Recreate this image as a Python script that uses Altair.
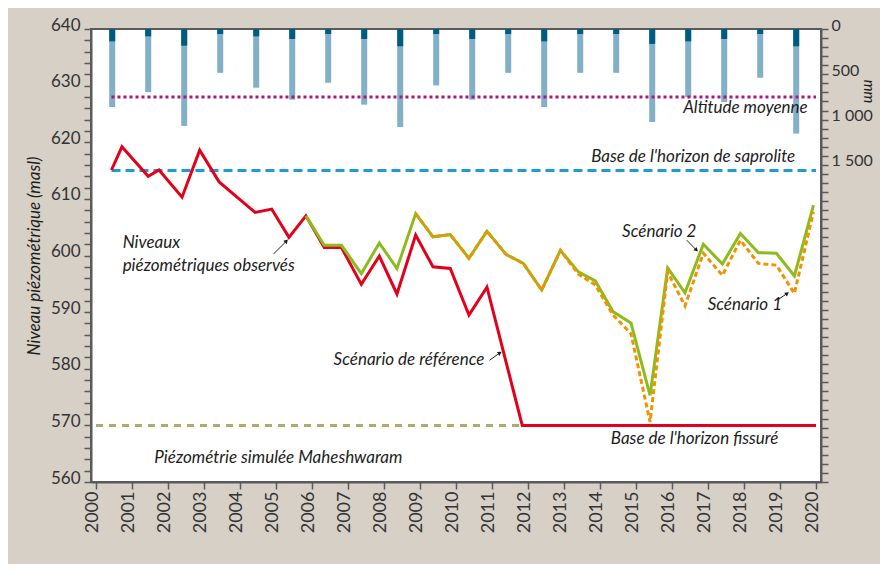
import altair as alt
import pandas as pd

# ---------------- data ----------------
# rainfall (mm), one bar per year
pluie_t = [2000.45, 2001.45, 2002.45, 2003.45, 2004.45, 2005.45, 2006.45, 2007.45, 2008.45, 2009.45,
           2010.45, 2011.45, 2012.45, 2013.45, 2014.45, 2015.45, 2016.45, 2017.45, 2018.45, 2019.45]
pluie_totale = [862, 697, 1070, 484, 648, 780, 593, 835, 1081, 623,
                780, 484, 862, 484, 484, 1026, 752, 807, 538, 1154]
pluie_sombre = [136, 81, 184, 55, 81, 110, 55, 110, 191, 55,
                110, 55, 136, 55, 55, 165, 136, 110, 55, 191]

# observed levels + reference scenario (red)
ref_t = [2000.43, 2000.72, 2001.45, 2001.75, 2002.39, 2002.88, 2003.42, 2003.90, 2004.42, 2004.88,
         2005.36, 2005.83, 2006.34, 2006.82, 2007.37, 2007.87, 2008.36, 2008.88, 2009.36, 2009.84,
         2010.36, 2010.86, 2011.84, 2020.0]
ref_v = [615.1, 619.2, 614.0, 615.1, 610.3, 618.6, 613.0, 610.4, 607.6, 608.2,
         603.2, 607.0, 601.4, 601.4, 594.9, 599.9, 593.2, 603.6, 598.0, 597.7,
         589.5, 594.4, 570.0, 570.0]

# scenario 2 (green)
s2_t = [2005.83, 2006.34, 2006.82, 2007.37, 2007.87, 2008.36, 2008.88, 2009.36, 2009.84, 2010.36,
        2010.86, 2011.39, 2011.87, 2012.38, 2012.90, 2013.40, 2013.87, 2014.36, 2014.86, 2015.39,
        2015.88, 2016.36, 2016.87, 2017.40, 2017.90, 2018.40, 2018.90, 2019.40, 2019.93]
s2_v = [607.0, 601.8, 601.8, 596.8, 602.2, 597.7, 607.4, 603.3, 603.7, 599.5,
        604.3, 600.2, 598.6, 593.9, 600.9, 597.1, 595.5, 590.1, 588.1, 575.3,
        597.8, 593.4, 602.0, 598.5, 603.9, 600.5, 600.4, 596.4, 608.9]

# scenario 1 (orange dashed)
s1_t = [2008.88, 2009.36, 2009.84, 2010.36, 2010.86, 2011.39, 2011.87, 2012.38, 2012.90, 2013.40,
        2013.87, 2014.36, 2014.86, 2015.39, 2015.88, 2016.36, 2016.87, 2017.40, 2017.90, 2018.40,
        2018.90, 2019.40, 2019.93]
s1_v = [607.4, 603.3, 603.7, 599.5, 604.3, 600.2, 598.6, 593.9, 600.9, 596.7,
        594.8, 589.5, 586.2, 570.6, 597.1, 591.1, 600.4, 596.5, 602.7, 598.6,
        598.3, 593.3, 607.7]

# reference levels (masl)
altitude_moyenne = 628
base_saprolite = 615
base_fissure = 570

# annotations
txt_left_labels = ["Niveaux", "piézométriques observés", "Scénario 1",
                   "Base de l'horizon fissuré", "Piézométrie simulée Maheshwaram"]
txt_left_t = [2000.74, 2000.74, 2016.99, 2014.30, 2001.62]
txt_left_v = [602.2, 598.1, 591.2, 567.6, 564.2]

txt_right_labels = ["Scénario de référence", "Scénario 2",
                    "Base de l'horizon de saprolite", "Altitude moyenne"]
txt_right_t = [2010.79, 2016.68, 2019.42, 2019.77]
txt_right_v = [581.5, 604.2, 617.4, 626.0]

arrow_t = [2004.93, 2010.93, 2016.41, 2018.92]
arrow_v = [600.25, 581.5, 602.7, 592.1]
arrow_t2 = [2005.29, 2011.22, 2016.68, 2019.20]
arrow_v2 = [602.55, 582.8, 600.95, 593.3]
arrow_angle = [45, 56, 135, 56]

# ---------------- styling ----------------
AX = "#5a5a5a"
TXT = "#1d1d1b"
FONT = "Lato"

X = alt.X("t:Q", scale=alt.Scale(domain=[2000, 2020], nice=False, zero=False),
          axis=alt.Axis(values=list(range(2000, 2021)), format="d", labelAngle=-90,
                        labelOverlap=False, labelBound=False, labelFlush=False,
                        title=None, tickSize=7, tickColor=AX, tickWidth=1.5,
                        domainColor=AX, domainWidth=2, labelPadding=2, labelOffset=-4,
                        labelFont=FONT, labelFontSize=18, labelColor="#333333"))

Y = alt.Y("v:Q", scale=alt.Scale(domain=[560, 640], nice=False, zero=False),
          axis=alt.Axis(orient="left", values=list(range(560, 641, 2)),
                        labelExpr="datum.value % 10 == 0 ? datum.label : ''",
                        labelOverlap=False, labelBound=False, labelFlush=False,
                        title="Niveau piézométrique (masl)", titleFont=FONT,
                        titleFontStyle="italic", titleFontWeight="normal", titleFontSize=17,
                        titleColor=TXT, titlePadding=7,
                        tickSize=7, tickColor=AX, tickWidth=1.5,
                        domainColor=AX, domainWidth=2, labelPadding=4, labelOffset=-4,
                        labelFont=FONT, labelFontSize=17, labelColor="#333333"))
Y2 = alt.Y2("v2:Q")


def ymm(field):
    return alt.Y(f"{field}:Q", scale=alt.Scale(domain=[0, 5000], reverse=True, nice=False, zero=False),
                 axis=alt.Axis(orient="right", values=list(range(0, 5001, 100)),
                               labelExpr="datum.value == 0 ? '0' : datum.value == 500 ? '500' : datum.value == 1000 ? '1 000' : datum.value == 1500 ? '1 500' : ''",
                               labelOverlap=False, labelBound=False, labelFlush=False,
                               title="mm", titleFont=FONT, titleFontStyle="italic",
                               titleFontWeight="normal", titleFontSize=15, titleColor=TXT,
                               titleAngle=90, titleX=47, titleY=62, titleBaseline="middle",
                               titleAlign="center",
                               tickSize=7, tickColor=AX, tickWidth=1.5,
                               domainColor=AX, domainWidth=2, labelPadding=3, labelOffset=-4,
                               labelFont=FONT, labelFontSize=16, labelColor="#333333"))


# ---------------- frames ----------------
bars = pd.DataFrame({"t": pluie_t, "total": pluie_totale, "sombre": pluie_sombre,
                     "zero": [0] * len(pluie_t)})
ref_df = pd.DataFrame({"t": ref_t, "v": ref_v})
s2_df = pd.DataFrame({"t": s2_t, "v": s2_v})
s1_df = pd.DataFrame({"t": s1_t, "v": s1_v})
tl = pd.DataFrame({"t": txt_left_t, "v": txt_left_v, "label": txt_left_labels})
tr = pd.DataFrame({"t": txt_right_t, "v": txt_right_v, "label": txt_right_labels})
arr = pd.DataFrame({"t": arrow_t, "v": arrow_v, "t2": arrow_t2, "v2": arrow_v2})
heads = pd.DataFrame({"t": arrow_t2, "v": arrow_v2, "a": arrow_angle})

rule_mag = pd.DataFrame({"t": [2000.43], "t2": [2020.0], "v": [altitude_moyenne]})
rule_blue = pd.DataFrame({"t": [2000.43], "t2": [2020.0], "v": [base_saprolite]})
rule_olive = pd.DataFrame({"t": [2000.0], "t2": [2011.84], "v": [base_fissure]})

# ---------------- layers ----------------
light = alt.Chart(bars).mark_bar(size=6, color="#82b0c8").encode(x=X, y=ymm("total"), y2="zero:Q")
dark = alt.Chart(bars).mark_bar(size=6, color="#005b80").encode(x=X, y=ymm("sombre"), y2="zero:Q")
right_group = alt.layer(light, dark)

r_mag = alt.Chart(rule_mag).mark_rule(color="#a8187f", strokeWidth=3, strokeDash=[3, 3]).encode(
    x=X, x2="t2:Q", y=Y)
r_blue = alt.Chart(rule_blue).mark_rule(color="#1e9ad6", strokeWidth=3, strokeDash=[9, 5]).encode(
    x=X, x2="t2:Q", y=Y)
r_olive = alt.Chart(rule_olive).mark_rule(color="#b3a969", strokeWidth=3, strokeDash=[7, 6]).encode(
    x=X, x2="t2:Q", y=Y)

l_ref = alt.Chart(ref_df).mark_line(color="#e2001a", strokeWidth=3).encode(x=X, y=Y, order="t:Q")
l_s2 = alt.Chart(s2_df).mark_line(color="#8dbb1e", strokeWidth=3).encode(x=X, y=Y, order="t:Q")
l_s1 = alt.Chart(s1_df).mark_line(color="#f39200", strokeWidth=3, strokeDash=[5, 3]).encode(
    x=X, y=Y, order="t:Q")

t_left = alt.Chart(tl).mark_text(font=FONT, fontStyle="italic", fontSize=17, align="left",
                                 baseline="middle", color=TXT).encode(x=X, y=Y, text="label:N")
t_right = alt.Chart(tr).mark_text(font=FONT, fontStyle="italic", fontSize=17, align="right",
                                  baseline="middle", color=TXT).encode(x=X, y=Y, text="label:N")

a_line = alt.Chart(arr).mark_rule(color=TXT, strokeWidth=1).encode(x=X, y=Y, x2="t2:Q", y2=Y2)
a_head = alt.Chart(heads).mark_point(shape="triangle-up", filled=True, size=22, color=TXT, opacity=1).encode(
    x=X, y=Y, angle=alt.Angle("a:Q", scale=None))

left_group = alt.layer(r_mag, r_blue, r_olive, l_ref, l_s2, l_s1, t_left, t_right, a_line, a_head)

chart = alt.layer(right_group, left_group).resolve_scale(y="independent").properties(
    width=730, height=453,
    padding={"left": 83, "top": 21, "right": 59, "bottom": 82},
    autosize=alt.AutoSizeParams(type="none"),
    background="#d7d0c6",
).configure_view(stroke=AX, strokeWidth=2, fill="white").configure_axis(
    grid=False, labelOverlap=False)

chart.save("out.html", embed_options={"renderer": "svg", "actions": False})
